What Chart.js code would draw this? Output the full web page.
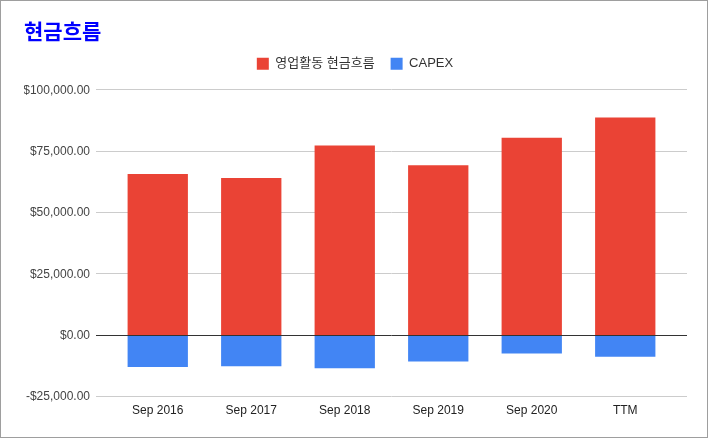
<!DOCTYPE html>
<html>
<head>
<meta charset="utf-8">
<script src="https://cdn.jsdelivr.net/npm/chart.js@4/dist/chart.umd.min.js"></script>
<style>
  html, body { margin: 0; padding: 0; background: #fff; }
  #wrap { width: 706px; height: 436px; border: 1px solid #9e9e9e; position: relative; }
  canvas { display: block; }
</style>
</head>
<body>
<div id="wrap"><canvas id="chart" width="706" height="436"></canvas></div>
<script>
const categories = ["Sep 2016", "Sep 2017", "Sep 2018", "Sep 2019", "Sep 2020", "TTM"]
const operatingCashFlow = [65824, 64225, 77434, 69391, 80674, 88923]
const capex = [-12734, -12451, -13313, -10495, -7309, -8600]
const yTicks = [-25000, 0, 25000, 50000, 75000, 100000]

const RED = "#ea4335"
const BLUE = "#4285f4"

function money(v) {
  const s = "$" + Math.abs(v).toLocaleString("en-US", { minimumFractionDigits: 2, maximumFractionDigits: 2 })
  return v < 0 ? "-" + s : s
}

// gridlines run a bit wider than the bar area, like the original
const wideGrid = {
  id: "wideGrid",
  beforeInit(chart) {
    const fit = chart.legend.fit
    chart.legend.fit = function () {
      fit.call(this)
      this.height = 47
    }
  },
  afterLayout(chart) {
    // nudge the legend a little
    chart.legend.left += 7
    chart.legend.right += 7
    chart.legend.top -= 2
    chart.legend.bottom -= 2
  },
  beforeDatasetsDraw(chart) {
    const { ctx, scales: { y } } = chart
    ctx.save()
    ctx.strokeStyle = "#cccccc"
    ctx.lineWidth = 1
    yTicks.forEach(t => {
      if (t === 0) return
      const py = Math.round(y.getPixelForValue(t)) - 0.5
      ctx.beginPath()
      ctx.moveTo(95, py)
      ctx.lineTo(686, py)
      ctx.stroke()
    })
    ctx.restore()
  },
  afterDatasetsDraw(chart) {
    const { ctx, scales: { y } } = chart
    const py = Math.round(y.getPixelForValue(0)) - 0.5
    ctx.save()
    ctx.strokeStyle = "#333333"
    ctx.lineWidth = 1
    ctx.beginPath()
    ctx.moveTo(95, py)
    ctx.lineTo(686, py)
    ctx.stroke()
    ctx.restore()
  }
}

new Chart(document.getElementById("chart"), {
  type: "bar",
  data: {
    labels: categories,
    datasets: [
      { label: "영업활동 현금흐름", data: operatingCashFlow, backgroundColor: RED },
      { label: "CAPEX", data: capex, backgroundColor: BLUE }
    ]
  },
  options: {
    responsive: false,
    animation: false,
    layout: { padding: { left: 23, right: 35, top: 0, bottom: 0 } },
    datasets: { bar: { categoryPercentage: 1, barPercentage: 0.645 } },
    scales: {
      x: {
        stacked: true,
        grid: { display: false, drawTicks: false },
        border: { display: false },
        ticks: { color: "#222", font: { family: "'Liberation Sans', Arial, sans-serif", size: 12 }, padding: 6, maxRotation: 0 },
        afterFit(scale) { scale.height = 40 }
      },
      y: {
        stacked: true,
        min: -25000,
        max: 100000,
        afterBuildTicks(scale) { scale.ticks = yTicks.map(v => ({ value: v })) },
        grid: { display: false, drawTicks: false },
        border: { display: false },
        ticks: {
          color: "#444",
          font: { family: "'Liberation Sans', Arial, sans-serif", size: 12 },
          padding: 21,
          callback: v => money(v)
        },
        afterFit(scale) { scale.width = 87 }
      }
    },
    plugins: {
      title: {
        display: true,
        text: "현금흐름",
        align: "start",
        color: "#0000ff",
        font: { family: "'Noto Sans CJK KR', sans-serif", size: 21, weight: "bold", lineHeight: 1.2 },
        padding: { top: 17, bottom: 0 }
      },
      legend: {
        display: true,
        position: "top",
        labels: {
          color: "#333",
          boxWidth: 12,
          boxHeight: 12,
          padding: 16,
          font: { family: "'Liberation Sans', 'Noto Sans CJK KR', sans-serif", size: 13 }
        }
      },
      tooltip: { enabled: false }
    }
  },
  plugins: [wideGrid]
})
</script>
</body>
</html>
